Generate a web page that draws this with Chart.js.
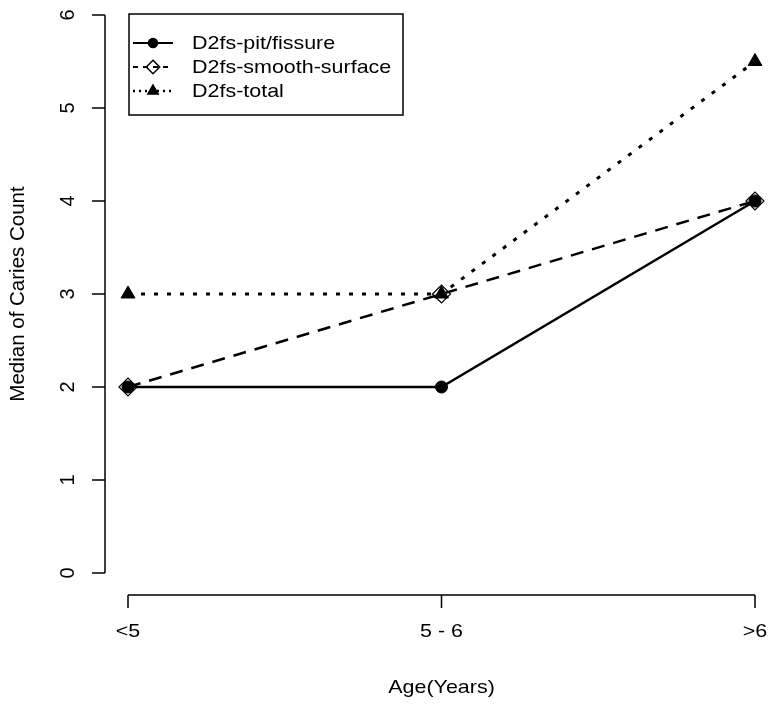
<!DOCTYPE html>
<html>
<head>
<meta charset="utf-8">
<script src="https://cdn.jsdelivr.net/npm/chart.js@4.4.1/dist/chart.umd.min.js"></script>
<style>
  html, body { margin: 0; padding: 0; background: #fff; }
  #wrap { width: 770px; height: 704px; }
</style>
</head>
<body>
<div id="wrap"><canvas id="caries" width="770" height="704"></canvas></div>
<script>
// Data
const ageGroups = ['<5', '5 - 6', '>6'];
const pitFissure = [2, 2, 4];
const smoothSurface = [2, 3, 4];
const totalD2fs = [3, 3, 5.5];
const yTicks = [0, 1, 2, 3, 4, 5, 6];

const FONT = '19px "Liberation Sans", Arial, sans-serif';
const STRETCH = 1.13; // the original text is a bit wider than Arial

// text drawn with a horizontal stretch, anchored at (tx, ty)
function stretchedText(ctx, txt, tx, ty, align) {
  ctx.save();
  ctx.translate(tx, ty);
  ctx.scale(STRETCH, 1);
  ctx.textAlign = align;
  ctx.fillText(txt, 0, 0);
  ctx.restore();
}

// R-style axes, titles and legend drawn from the chart's own scales
const rStyle = {
  id: 'rStyle',
  afterDraw(chart) {
    const { ctx, scales: { x, y } } = chart;
    ctx.save();
    ctx.strokeStyle = '#000';
    ctx.fillStyle = '#000';
    ctx.lineWidth = 1.5;
    ctx.font = FONT;

    // y axis
    const yAxisX = 105;
    ctx.beginPath();
    ctx.moveTo(yAxisX, y.getPixelForValue(yTicks[0]));
    ctx.lineTo(yAxisX, y.getPixelForValue(yTicks[yTicks.length - 1]));
    yTicks.forEach(t => {
      const py = y.getPixelForValue(t);
      ctx.moveTo(yAxisX, py);
      ctx.lineTo(yAxisX - 13, py);
    });
    ctx.stroke();
    ctx.font = '20px "Liberation Sans", Arial, sans-serif';
    yTicks.forEach(t => {
      const py = y.getPixelForValue(t);
      ctx.save();
      ctx.translate(78, py);
      ctx.rotate(-Math.PI / 2);
      ctx.textAlign = 'center';
      ctx.textBaseline = 'bottom';
      ctx.fillText(String(t), 0, 0);
      ctx.restore();
    });

    // x axis
    const xAxisY = 595;
    ctx.beginPath();
    ctx.moveTo(x.getPixelForValue(0), xAxisY);
    ctx.lineTo(x.getPixelForValue(ageGroups.length - 1), xAxisY);
    ageGroups.forEach((g, i) => {
      const px = x.getPixelForValue(i);
      ctx.moveTo(px, xAxisY);
      ctx.lineTo(px, xAxisY + 13);
    });
    ctx.stroke();
    ctx.font = FONT;
    ctx.textBaseline = 'middle';
    ageGroups.forEach((g, i) => {
      stretchedText(ctx, g, x.getPixelForValue(i), 632, 'center');
    });

    // titles
    stretchedText(ctx, 'Age(Years)', (x.left + x.right) / 2, 688, 'center');
    ctx.save();
    ctx.translate(18, (y.top + y.bottom) / 2);
    ctx.rotate(-Math.PI / 2);
    ctx.font = '20.5px "Liberation Sans", Arial, sans-serif';
    ctx.textAlign = 'center';
    ctx.fillText('Median of Caries Count', 0, 0);
    ctx.restore();

    // legend box
    ctx.lineWidth = 1.5;
    ctx.strokeRect(129, 14, 274, 101);
    const rows = [43, 67, 91];
    chart.data.datasets.forEach((ds, i) => {
      const ry = rows[i];
      ctx.save();
      ctx.lineWidth = ds.borderWidth * 0.8;
      ctx.setLineDash(ds.legendDash);
      ctx.beginPath();
      ctx.moveTo(133, ry);
      ctx.lineTo(173, ry);
      ctx.stroke();
      ctx.restore();
      ctx.save();
      ctx.fillStyle = ds.pointBackgroundColor;
      ctx.strokeStyle = ds.pointBorderColor;
      Chart.helpers.drawPoint(ctx, {
        pointStyle: ds.pointStyle,
        radius: ds.pointRadius * 0.75,
        borderWidth: ds.pointBorderWidth
      }, 153, ry);
      ctx.restore();
      ctx.fillStyle = '#000';
      ctx.textBaseline = 'middle';
      stretchedText(ctx, ds.label, 192, ry + 1, 'left');
    });
    ctx.restore();
  }
};

const ctx = document.getElementById('caries').getContext('2d');
new Chart(ctx, {
  type: 'line',
  data: {
    labels: ageGroups,
    datasets: [
      {
        label: 'D2fs-pit/fissure',
        data: pitFissure,
        borderColor: '#000',
        backgroundColor: '#000',
        borderWidth: 2.5,
        borderDash: [],
        legendDash: [],
        pointStyle: 'circle',
        pointRadius: 6,
        pointBackgroundColor: '#000',
        pointBorderColor: '#000',
        pointBorderWidth: 1,
        order: 1
      },
      {
        label: 'D2fs-smooth-surface',
        data: smoothSurface,
        borderColor: '#000',
        backgroundColor: 'rgba(0,0,0,0)',
        borderWidth: 2.5,
        borderDash: [13, 9],
        legendDash: [5, 5],
        pointStyle: 'rectRot',
        pointRadius: 9,
        pointBackgroundColor: 'rgba(0,0,0,0)',
        pointBorderColor: '#000',
        pointBorderWidth: 1.2,
        order: 2
      },
      {
        label: 'D2fs-total',
        data: totalD2fs,
        borderColor: '#000',
        backgroundColor: '#000',
        borderWidth: 3,
        borderDash: [4, 9],
        legendDash: [2, 4],
        pointStyle: 'triangle',
        pointRadius: 8,
        pointBackgroundColor: '#000',
        pointBorderColor: '#000',
        pointBorderWidth: 1,
        order: 3
      }
    ]
  },
  options: {
    responsive: false,
    animation: false,
    clip: false,
    layout: { padding: { left: 128, right: 15, top: 15, bottom: 131 } },
    plugins: { legend: { display: false }, tooltip: { enabled: false } },
    elements: { line: { tension: 0, fill: false } },
    scales: {
      x: { type: 'category', display: false, offset: false },
      y: { display: false, min: 0, max: 6 }
    }
  },
  plugins: [rStyle]
});
</script>
</body>
</html>
